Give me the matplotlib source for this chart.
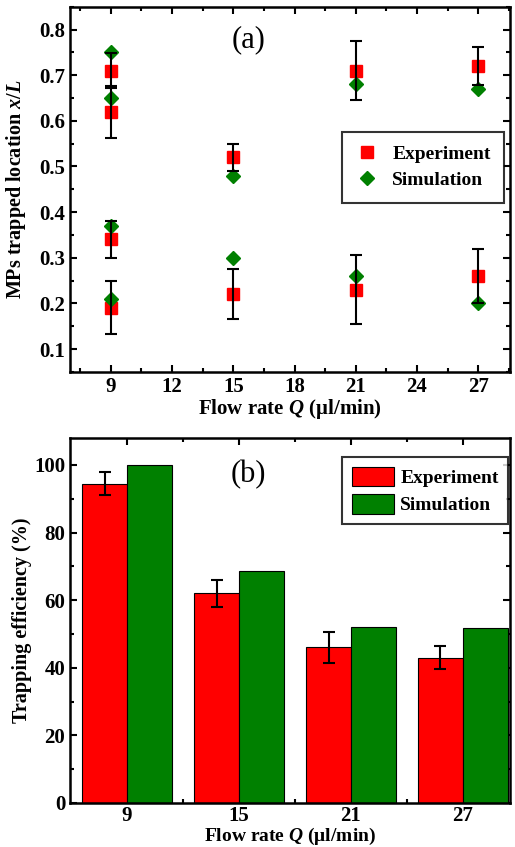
import numpy as np
import matplotlib
matplotlib.use('Agg')
import matplotlib.pyplot as plt
from matplotlib.ticker import MultipleLocator

plt.rcParams['font.family'] = 'Liberation Serif'
plt.rcParams['font.weight'] = 'bold'
plt.rcParams['axes.labelweight'] = 'bold'
plt.rcParams['mathtext.fontset'] = 'custom'
plt.rcParams['mathtext.it'] = 'Liberation Serif:italic:bold'
plt.rcParams['mathtext.rm'] = 'Liberation Serif:bold'

# (a) trapped locations
exp_x = [9, 9, 9, 9, 15, 15, 21, 21, 27, 27]
exp_y = [0.71, 0.62, 0.34, 0.19, 0.52, 0.22, 0.71, 0.23, 0.72, 0.26]
exp_err = [0.038, 0.057, 0.041, 0.058, 0.03, 0.055, 0.064, 0.075, 0.041, 0.06]
sim_x = [9, 9, 9, 9, 15, 15, 21, 21, 27, 27]
sim_y = [0.75, 0.65, 0.37, 0.21, 0.48, 0.30, 0.68, 0.26, 0.67, 0.20]

# (b) trapping efficiency
flow = ['9', '15', '21', '27']
exp_eff = [94.5, 62.0, 46.0, 43.0]
exp_eff_err = [3.5, 4.0, 4.6, 3.3]
sim_eff = [100.0, 68.7, 52.1, 51.8]

red = '#ff0000'
green = '#008000'

fig = plt.figure(figsize=(5.15, 8.47), dpi=100)
ax1 = fig.add_axes([0.136, 0.561, 0.854, 0.431])
ax2 = fig.add_axes([0.136, 0.052, 0.854, 0.431])

def style(ax):
    for s in ax.spines.values():
        s.set_linewidth(1.8)
    ax.tick_params(which='both', direction='in', top=True, right=True,
                   width=1.5, labelsize=15)
    ax.tick_params(which='major', length=5)
    ax.tick_params(which='minor', length=3)

# ---- panel (a)
ax1.plot(exp_x, exp_y, 's', color=red, ms=8.6, zorder=2, label='Experiment')
ax1.plot(sim_x, sim_y, 'D', color=green, ms=7.5, zorder=3, label='Simulation')
ax1.errorbar(exp_x, exp_y, yerr=exp_err, fmt='none', ecolor='black',
             elinewidth=1.5, capsize=4.3, capthick=1.5, zorder=4)
ax1.set_xlim(7, 28.55)
ax1.set_ylim(0.05, 0.85)
ax1.xaxis.set_minor_locator(MultipleLocator(1.5))
ax1.yaxis.set_major_locator(MultipleLocator(0.1))
ax1.yaxis.set_minor_locator(MultipleLocator(0.05))
ax1.set_xticks([9, 12, 15, 18, 21, 24, 27])
ax1.yaxis.set_major_formatter(plt.FuncFormatter(lambda v, p: f'{v:.1f}'))
style(ax1)
ax1.set_xlabel(r'Flow rate $Q$ ($\mathrm{\mu}$l/min)', fontsize=15, labelpad=0)
ax1.set_ylabel(r'MPs trapped location $x/L$', fontsize=14.5)
ax1.yaxis.set_label_coords(-0.095, 0.5)
ax1.text(0.405, 0.91, '(a)', transform=ax1.transAxes, fontsize=22,
         fontweight='normal', ha='center', va='center')
leg1 = ax1.legend(loc='upper left', bbox_to_anchor=(0.618, 0.658), fontsize=14,
                  frameon=True, fancybox=False, edgecolor='black',
                  handlelength=1.2, handletextpad=0.7, labelspacing=0.45,
                  borderpad=0.7, borderaxespad=0)
leg1.get_frame().set_linewidth(1.5)

# ---- panel (b)
pos = np.arange(len(flow))
w = 0.4
ax2.bar(pos - w / 2, exp_eff, w, color=red, edgecolor='black', linewidth=0.8,
        label='Experiment', zorder=2)
ax2.bar(pos + w / 2, sim_eff, w, color=green, edgecolor='black', linewidth=0.8,
        label='Simulation', zorder=2)
ax2.errorbar(pos - w / 2, exp_eff, yerr=exp_eff_err, fmt='none', ecolor='black',
             elinewidth=1.5, capsize=4.3, capthick=1.5, zorder=4)
ax2.set_xlim(-0.51, 3.42)
ax2.set_ylim(0, 108)
ax2.set_xticks(pos)
ax2.set_xticklabels(flow)
ax2.set_xticks(pos[:-1] + 0.5, minor=True)
ax2.yaxis.set_major_locator(MultipleLocator(20))
ax2.yaxis.set_minor_locator(MultipleLocator(10))
style(ax2)
ax2.tick_params(axis='x', which='both', pad=2)
ax2.set_xlabel(r'Flow rate $Q$ ($\mathrm{\mu}$l/min)', fontsize=14, labelpad=0)
ax2.set_ylabel('Trapping efficiency (%)', fontsize=14.5)
ax2.yaxis.set_label_coords(-0.086, 0.5)
ax2.text(0.405, 0.9, '(b)', transform=ax2.transAxes, fontsize=22,
         fontweight='normal', ha='center', va='center')
leg2 = ax2.legend(loc='upper left', bbox_to_anchor=(0.618, 0.948), fontsize=14,
                  frameon=True, fancybox=False, edgecolor='black',
                  handlelength=2.2, handleheight=1.19, handletextpad=0.3,
                  labelspacing=0.35, borderpad=0.5, borderaxespad=0)
leg2.get_frame().set_linewidth(1.5)

fig.savefig('out.png', dpi=100)
